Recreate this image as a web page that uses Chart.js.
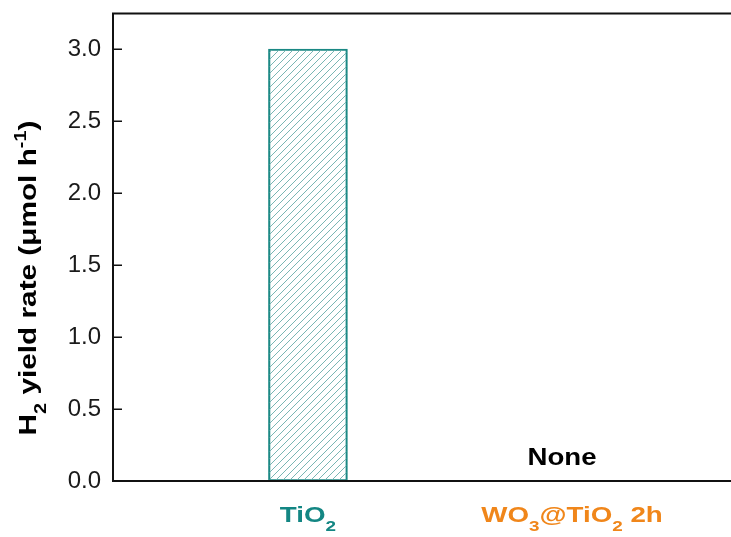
<!DOCTYPE html>
<html>
<head>
<meta charset="utf-8">
<script src="https://cdn.jsdelivr.net/npm/chart.js@4/dist/chart.umd.min.js"></script>
<style>
  html, body { margin: 0; padding: 0; background: #fff; }
  #wrap { width: 731px; height: 537px; position: relative; }
</style>
</head>
<body>
<div id="wrap"><canvas id="c" width="731" height="537"></canvas></div>
<script>
// Samples (underscore marks a subscript digit)
const categories = ['TiO_2', 'WO_3@TiO_2 2h'];
// H2 evolution rate, µmol h^-1 (null: no H2 detected)
const yieldRates = [3.0, null];
// Text written above the baseline for samples without a bar
const noteLabels = [null, 'None'];
// Left-axis tick values
const yTickValues = [0, 0.5, 1.0, 1.5, 2.0, 2.5, 3.0];

const FONT = '"Liberation Sans", Arial, Helvetica, sans-serif';
const catColors = ['#138683', '#f0861a'];
const barColor = '#1a8884';
const hatchColor = '#6aaeab';

// diagonal "/" hatch used to fill the bar
function makeHatch() {
  const s = 7;
  const p = document.createElement('canvas');
  p.width = s; p.height = s;
  const g = p.getContext('2d');
  g.strokeStyle = hatchColor;
  g.lineWidth = 0.9;
  g.beginPath();
  g.moveTo(0, s); g.lineTo(s, 0);
  g.moveTo(-1, 1); g.lineTo(1, -1);
  g.moveTo(s - 1, s + 1); g.lineTo(s + 1, s - 1);
  g.stroke();
  return document.getElementById('c').getContext('2d').createPattern(p, 'repeat');
}

// split "TiO_2" style strings into normal / subscript runs
function parseRich(str) {
  const segs = [];
  const re = /_(\S)|\^\{([^}]*)\}|([^_^]+)/g;
  let m;
  while ((m = re.exec(str)) !== null) {
    if (m[1]) segs.push({ t: m[1], mode: 'sub' });
    else if (m[2]) segs.push({ t: m[2], mode: 'sup' });
    else segs.push({ t: m[3], mode: 'n' });
  }
  return segs;
}

// draw a run of text with sub/superscripts, centred on x, stretched along its baseline
function drawRich(ctx, segs, x, y, size, stretch, color) {
  const small = Math.round(size * 0.66);
  const fontFor = s => 'bold ' + (s.mode === 'n' ? size : small) + 'px ' + FONT;
  let w = 0;
  segs.forEach(s => { ctx.font = fontFor(s); s.w = ctx.measureText(s.t).width; w += s.w; });
  ctx.save();
  ctx.translate(x, y);
  ctx.scale(stretch, 1);
  ctx.fillStyle = color;
  ctx.textBaseline = 'alphabetic';
  ctx.textAlign = 'left';
  let cx = -w / 2;
  segs.forEach(s => {
    ctx.font = fontFor(s);
    const dy = s.mode === 'sub' ? size * 0.4 : (s.mode === 'sup' ? -size * 0.42 : 0);
    ctx.fillText(s.t, cx, dy);
    cx += s.w;
  });
  ctx.restore();
}

const framePlugin = {
  id: 'frame',
  afterDatasetsDraw(chart) {
    const ctx = chart.ctx;
    const a = chart.chartArea;
    const ys = chart.scales.y;
    const xs = chart.scales.x;
    ctx.save();
    ctx.strokeStyle = '#111';
    ctx.lineWidth = 2;
    ctx.beginPath();
    ctx.moveTo(a.left + 1, a.bottom);
    ctx.lineTo(a.left + 1, a.top);
    ctx.moveTo(a.left, a.top + 0.5);
    ctx.lineTo(chart.width, a.top + 0.5);
    ctx.moveTo(a.left, a.bottom);
    ctx.lineTo(chart.width, a.bottom);
    ctx.stroke();
    // inward major ticks
    ctx.lineWidth = 1.5;
    ctx.beginPath();
    yTickValues.forEach(v => {
      const py = Math.round(ys.getPixelForValue(v)) + 0.25;
      ctx.moveTo(a.left + 1, py);
      ctx.lineTo(a.left + 10, py);
    });
    ctx.stroke();
    ctx.restore();

    // category labels under the axis
    categories.forEach((c, i) => {
      const px = xs.getPixelForValue(i + 1);
      drawRich(ctx, parseRich(c), px, 522, 22, 1.26, catColors[i]);
    });
    // notes for samples without a bar
    noteLabels.forEach((n, i) => {
      if (!n) return;
      const px = xs.getPixelForValue(i + 1) - 10;
      drawRich(ctx, [{ t: n, mode: 'n' }], px, 465, 24, 1.15, '#000');
    });

    // rotated y-axis title
    ctx.save();
    ctx.translate(36, 278);
    ctx.rotate(-Math.PI / 2);
    drawRich(ctx, [
      { t: 'H', mode: 'n' }, { t: '2', mode: 'sub' },
      { t: ' yield rate (', mode: 'n' }, { t: 'μ', mode: 'n' },
      { t: 'mol h', mode: 'n' }, { t: '-1', mode: 'sup' }, { t: ')', mode: 'n' }
    ], 0, 0, 24, 1.24, '#000');
    ctx.restore();
  }
};

const chart = new Chart(document.getElementById('c'), {
  type: 'bar',
  data: {
    datasets: [{
      data: categories.map((c, i) => ({ x: i + 1, y: yieldRates[i] })),
      backgroundColor: makeHatch(),
      borderColor: barColor,
      borderWidth: 1.5,
      borderSkipped: false,
      barThickness: 79
    }]
  },
  options: {
    responsive: false,
    animation: false,
    layout: { padding: { top: 13, right: 0, bottom: 56, left: 0 } },
    plugins: { legend: { display: false }, tooltip: { enabled: false } },
    scales: {
      x: {
        type: 'linear',
        min: 0.258,
        max: 2.602,
        offset: false,
        display: false
      },
      y: {
        min: 0,
        max: 3.25,
        afterBuildTicks(s) { s.ticks = yTickValues.map(v => ({ value: v })); },
        afterFit(s) { s.width = 112; s.paddingTop = 0; s.paddingBottom = 0; },
        grid: { display: false, drawTicks: false },
        border: { display: false },
        ticks: {
          padding: 11,
          color: '#1a1a1a',
          font: { family: FONT, size: 24 },
          callback: v => Number(v).toFixed(1)
        }
      }
    }
  },
  plugins: [framePlugin]
});
</script>
</body>
</html>
